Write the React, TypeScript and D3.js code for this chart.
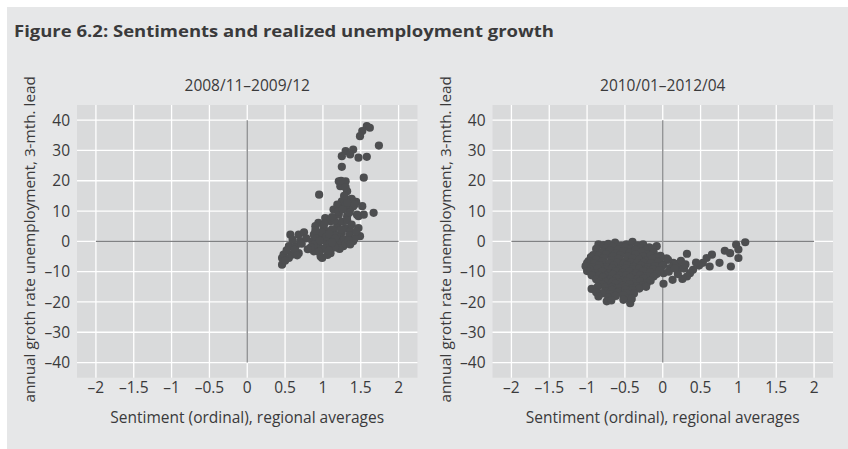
import React from 'react';
import * as d3 from 'd3';

const xTicks = [-2, -1.5, -1, -0.5, 0, 0.5, 1, 1.5, 2];
const yTicks = [40, 30, 20, 10, 0, -10, -20, -30, -40];
const panelTitles = ['2008/11–2009/12', '2010/01–2012/04'];

// [sentiment, unemployment growth]
const earlyPoints: [number, number][] = [
  [1.58, 38.0], [1.62, 37.5], [1.52, 36.4], [1.49, 34.7], [1.74, 31.6], [1.3, 29.8],
  [1.4, 30.3], [1.25, 28.1], [1.36, 28.7], [1.47, 27.6], [1.58, 27.9], [1.25, 24.6],
  [1.54, 21.0], [1.21, 19.8], [1.3, 19.8], [1.23, 18.2], [1.32, 16.5], [0.95, 15.4],
  [1.34, 13.8], [1.25, 13.2], [1.4, 13.2], [1.19, 12.1], [1.52, 11.6], [1.14, 10.5],
  [1.27, 11.0], [1.36, 10.5], [1.67, 9.4], [1.47, 8.3], [1.54, 8.8], [1.21, 8.8],
  [1.32, 8.3], [1.03, 7.7], [0.94, 6.1], [1.1, 6.6], [0.9, 5.0], [1.01, 4.4],
  [1.19, 5.0], [1.3, 4.4], [1.47, 4.4], [1.05, 3.3], [1.14, 3.3], [1.25, 2.8],
  [1.36, 3.3], [1.49, 1.7], [0.57, 2.2], [0.68, 2.2], [0.75, 3.0], [0.88, 2.2],
  [0.97, 1.7], [1.1, 1.1], [1.23, 1.1], [0.55, -1.6], [0.64, -1.6], [0.7, 0.0],
  [0.86, 0.0], [0.94, -1.6], [1.03, 0.0], [1.14, 0.6], [1.27, -1.6], [1.4, 0.0],
  [0.48, -4.4], [0.59, -4.4], [0.68, -3.9], [0.88, -3.3], [0.97, -5.0], [1.1, -3.9],
  [0.46, -7.7], [0.46, -5.5], [0.55, -5.5], [0.99, -5.5], [1.45, 8.8], [1.44, 13.0],
  [0.92, 0.8], [0.98, 3.0], [1.05, 1.5], [1.08, -1.0], [1.12, 4.0], [1.18, 2.0],
  [1.2, -0.5], [1.25, 6.5], [1.28, 0.5], [1.32, 7.0], [1.35, 2.0], [1.38, 5.5],
  [1.42, 1.0], [1.15, 6.8], [1.0, -2.5], [0.95, -3.5], [1.06, -4.5], [1.22, -2.5],
  [1.3, -0.8], [0.88, -1.0], [1.02, 5.8], [1.4, 11.5], [1.3, 12.0], [1.35, 9.5],
  [1.38, 14.0], [0.62, -2.8], [0.78, 1.0], [0.52, -3.0], [1.16, -2.0], [0.84, -2.0],
  [1.08, 2.4], [1.16, 1.0], [0.96, 0.2], [1.04, -2.2], [1.24, 3.8], [1.12, -0.4],
  [1.34, 0.4], [1.2, 9.8], [1.26, 10.5], [1.32, 12.8], [1.42, 12.2], [1.28, 15.0],
  [1.24, 20.0], [1.3, 17.8], [0.6, 0.5], [0.72, -0.8], [0.8, -2.6], [0.66, -4.6],
  [0.5, -6.4], [1.36, -1.0], [1.12, 8.0], [1.44, 3.2], [1.08, -3.0], [0.9, 3.6],
];

const latePoints: [number, number][] = [
  [1.09, -0.3], [0.97, -1.1], [1.0, -2.7], [0.89, -3.9], [0.82, -3.1], [1.0, -5.5],
  [0.9, -8.3], [0.75, -7.1], [0.65, -4.4], [0.58, -5.5], [0.62, -8.3], [0.53, -7.1],
  [0.48, -8.0], [0.4, -9.4], [0.36, -10.5], [0.32, -11.6], [0.26, -12.4], [0.13, -12.7],
  [0.01, -14.0], [0.32, -4.1], [0.23, -8.8], [0.14, -7.1], [0.07, -6.1], [0.01, -7.7],
  [0.01, -10.5], [-0.04, -5.0], [0.1, -8.8], [0.05, -5.6], [0.18, -7.5], [0.28, -9.0],
  [0.08, -10.0], [0.2, -10.8], [0.16, -9.0], [0.24, -6.4], [0.44, -7.0], [0.3, -7.6],
  [-0.85, -1.0], [-0.78, -1.2], [-0.72, -0.8], [-0.63, -0.4], [-0.55, -1.5], [-0.48, -1.0],
  [-0.4, -0.2], [-0.33, -1.3], [-0.26, -1.0], [-0.18, -2.0], [-0.08, -1.6],
  [-0.88, -2.5], [-0.75, -2.2], [-0.66, -1.8], [-0.58, -2.6], [-0.5, -2.0], [-0.42, -2.5],
  [-0.3, -2.2], [-0.22, -2.8], [-0.14, -2.4],
  [-0.92, -4.5], [-0.8, -3.5], [-0.7, -3.0], [-0.62, -4.0], [-0.52, -3.2], [-0.44, -3.8],
  [-0.36, -2.8], [-0.28, -3.5], [-0.2, -4.2], [-0.12, -3.6], [-0.03, -4.8],
  [-0.95, -5.2], [-0.85, -4.8], [-0.75, -4.4], [-0.66, -5.0], [-0.56, -4.6], [-0.46, -5.0],
  [-0.36, -4.4], [-0.26, -5.0], [-0.16, -4.8], [-0.08, -5.4],
  [-0.98, -6.5], [-0.88, -6.0], [-0.78, -5.5], [-0.68, -6.2], [-0.58, -5.8], [-0.49, -6.5],
  [-0.4, -5.6], [-0.31, -6.0], [-0.22, -6.4], [-0.14, -5.8], [-0.05, -6.5],
  [-1.0, -7.2], [-0.9, -7.4], [-0.8, -6.8], [-0.7, -7.2], [-0.6, -7.0], [-0.52, -7.4],
  [-0.42, -6.9], [-0.34, -7.2], [-0.25, -7.1], [-0.16, -7.3], [-0.06, -7.0],
  [-1.02, -8.2], [-0.93, -8.6], [-0.84, -7.8], [-0.74, -8.5], [-0.65, -8.0], [-0.56, -8.8],
  [-0.47, -7.8], [-0.38, -8.4], [-0.29, -8.0], [-0.2, -8.6], [-0.1, -8.2], [0.0, -8.0],
  [-0.96, -9.2], [-0.86, -9.0], [-0.76, -9.4], [-0.67, -9.0], [-0.58, -9.4], [-0.49, -9.0],
  [-0.4, -9.2], [-0.31, -9.0], [-0.22, -9.4], [-0.13, -9.3], [-0.04, -9.6],
  [-1.0, -9.8], [-0.9, -10.5], [-0.8, -10.0], [-0.71, -10.6], [-0.62, -9.8], [-0.53, -10.4],
  [-0.44, -10.0], [-0.35, -10.6], [-0.26, -9.8], [-0.17, -10.3], [-0.08, -10.8],
  [-0.94, -11.2], [-0.84, -11.2], [-0.75, -11.4], [-0.66, -11.0], [-0.57, -11.4], [-0.48, -11.2],
  [-0.39, -11.4], [-0.3, -11.2], [-0.21, -11.5], [-0.12, -11.6],
  [-0.88, -12.5], [-0.79, -12.0], [-0.7, -12.6], [-0.61, -12.2], [-0.52, -12.8], [-0.43, -12.0],
  [-0.34, -12.5], [-0.25, -12.2], [-0.16, -13.0],
  [-0.84, -13.4], [-0.75, -13.4], [-0.66, -13.2], [-0.57, -13.6], [-0.48, -13.2], [-0.39, -13.6],
  [-0.3, -13.3], [-0.21, -13.8],
  [-0.8, -14.2], [-0.71, -14.8], [-0.62, -14.0], [-0.53, -14.6], [-0.44, -14.2], [-0.35, -14.8],
  [-0.26, -14.4],
  [-0.86, -15.0], [-0.76, -15.2], [-0.67, -15.2], [-0.58, -15.4], [-0.49, -15.1], [-0.4, -15.4],
  [-0.31, -15.6],
  [-0.94, -15.7], [-0.76, -16.4], [-0.67, -16.0], [-0.58, -16.6], [-0.49, -16.0], [-0.4, -16.2],
  [-0.22, -15.0],
  [-0.8, -17.2], [-0.7, -17.4], [-0.6, -17.0], [-0.48, -17.2], [-0.38, -17.2], [-0.88, -16.8],
  [-0.85, -18.2], [-0.72, -18.6], [-0.62, -18.0], [-0.52, -17.8], [-0.45, -18.8],
  [-0.74, -19.8], [-0.52, -19.3], [-0.43, -20.4], [-0.41, -19.0], [-0.68, -19.5],
];

const FONT = '"Open Sans", "Noto Sans", sans-serif';
const TEXT = '#3a3a3b';

function Panel({ left, title, points }: { left: number; title: string; points: [number, number][] }) {
  const top = 105;
  const bottom = 377.7;
  const width = 340.5;
  const x = d3.scaleLinear().domain([-2.25, 2.25]).range([left, left + width]);
  const y = d3.scaleLinear().domain([-45, 45]).range([bottom, top]);
  const cx = x(0);
  const fmt = (t: number) => (t < 0 ? '–' + Math.abs(t) : String(t));

  return (
    <g>
      <rect x={left} y={top} width={width} height={bottom - top} fill="#d9dadb" />
      {xTicks.map(t => (
        <line key={'gx' + t} x1={x(t)} x2={x(t)} y1={top} y2={bottom} stroke="#fff" strokeWidth={1.3} />
      ))}
      {yTicks.map(t => (
        <line key={'gy' + t} x1={left} x2={left + width} y1={y(t)} y2={y(t)} stroke="#fff" strokeWidth={1.3} />
      ))}
      <line x1={x(-2)} x2={x(2)} y1={y(0)} y2={y(0)} stroke="#808183" strokeWidth={1.3} />
      <line x1={cx} x2={cx} y1={y(40)} y2={y(-40)} stroke="#949597" strokeWidth={1.5} />
      {points.map((p, i) => (
        <circle key={i} cx={x(p[0])} cy={y(p[1])} r={4.1} fill="#4d4e50" />
      ))}
      {xTicks.map(t => (
        <text key={'tx' + t} x={x(t)} y={392.5} textAnchor="middle" fontSize={15.5} fill={TEXT} fontFamily={FONT}>
          {fmt(t)}
        </text>
      ))}
      {yTicks.map(t => (
        <text key={'ty' + t} x={left - 7} y={y(t)} dy="0.36em" textAnchor="end" fontSize={15.5} fill={TEXT} fontFamily={FONT}>
          {fmt(t)}
        </text>
      ))}
      <text x={cx} y={91} textAnchor="middle" fontSize={15.5} fill={TEXT} fontFamily={FONT}>{title}</text>
      <text x={cx} y={422.5} textAnchor="middle" fontSize={15.5} fill={TEXT} fontFamily={FONT}>
        Sentiment (ordinal), regional averages
      </text>
      <text
        transform={`translate(${left - 42},${(top + bottom) / 2 - 2}) rotate(-90)`}
        textAnchor="middle"
        fontSize={15.3}
        fill={TEXT}
        fontFamily={FONT}
      >
        annual groth rate unemployment, 3-mth. lead
      </text>
    </g>
  );
}

export default function App() {
  return (
    <svg width={848} height={449} style={{ position: 'absolute', left: 0, top: 0 }}>
      <rect x={0} y={0} width={848} height={449} fill="#fff" />
      <rect x={7} y={7} width={841} height={442} fill="#e6e7e8" />
      <text x={14} y={37} fontSize={16} fontWeight="bold" fill={TEXT} fontFamily={FONT}
        textLength={540} lengthAdjust="spacingAndGlyphs">
        Figure 6.2: Sentiments and realized unemployment growth
      </text>
      <Panel left={77} title={panelTitles[0]} points={earlyPoints} />
      <Panel left={492.5} title={panelTitles[1]} points={latePoints} />
    </svg>
  );
}
